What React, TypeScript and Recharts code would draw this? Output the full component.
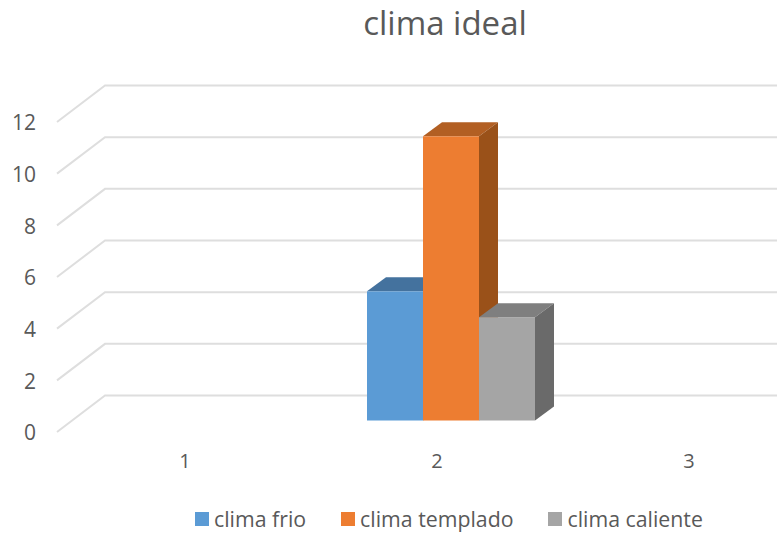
import React from "react";
import { BarChart, Bar, XAxis, YAxis, CartesianGrid, Legend } from "recharts";

const categories = ["1", "2", "3"];
const climaFrio = [null, 5, null];
const climaTemplado = [null, 11, null];
const climaCaliente = [null, 4, null];
const yTicks = [0, 2, 4, 6, 8, 10, 12];

const data = categories.map((name, i) => ({
    name,
    frio: climaFrio[i],
    templado: climaTemplado[i],
    caliente: climaCaliente[i],
}));

const FONT = "'Open Sans', sans-serif";
const TEXT_COLOR = "#595959";

// fake 3d depth, excel draws the columns pushed back from the axis plane
const DEPTH_X = 19;
const DEPTH_Y = 14;
const SHIFT_X = 14;
const SHIFT_Y = -11.5;
const WALL_X = 48;
const WALL_Y = 36.5;

const Column3D = (colors: { top: string; side: string }) => (props: any) => {
    const { x, y, width, height, fill } = props;
    if (!height) {
        return null;
    }
    const l = x + SHIFT_X;
    const r = l + width;
    const t = y + SHIFT_Y;
    const b = t + height;
    return (
        <g>
            <polygon
                points={`${l},${t} ${l + DEPTH_X},${t - DEPTH_Y} ${r + DEPTH_X},${t - DEPTH_Y} ${r},${t}`}
                fill={colors.top}
            />
            <polygon
                points={`${r},${t} ${r + DEPTH_X},${t - DEPTH_Y} ${r + DEPTH_X},${b - DEPTH_Y} ${r},${b}`}
                fill={colors.side}
            />
            <rect x={l} y={t} width={width} height={height} fill={fill} />
        </g>
    );
};

const WallLine = (props: any) => {
    const { x1, y1, x2 } = props;
    const start = x1 - 2;
    return (
        <path
            d={`M${start},${y1} L${start + WALL_X},${y1 - WALL_Y} L${x2},${y1 - WALL_Y}`}
            fill="none"
            stroke="#DEDEDE"
            strokeWidth={2}
        />
    );
};

const LegendRow = (props: any) => (
    <div style={{ display: "flex", fontFamily: FONT, fontSize: 21.3, color: TEXT_COLOR, lineHeight: "26px" }}>
        {props.payload.map((item: any) => (
            <div key={item.value} style={{ display: "flex", alignItems: "center", marginRight: 35 }}>
                <span style={{ width: 14, height: 14, background: item.color, marginRight: 5 }} />
                <span>{item.value}</span>
            </div>
        ))}
    </div>
);

export default function App() {
    return (
        <div style={{ position: "absolute", left: 0, top: 0, width: 777, height: 534, overflow: "hidden" }}>
            <BarChart
                width={830}
                height={534}
                data={data}
                barSize={56}
                barGap={0}
                margin={{ top: 122, right: 15, bottom: 42, left: 0 }}
            >
                <text x={445} y={35} textAnchor="middle" fontFamily={FONT} fontSize={33} fill={TEXT_COLOR}>
                    clima ideal
                </text>
                <CartesianGrid vertical={false} horizontal={WallLine} syncWithTicks />
                <XAxis
                    dataKey="name"
                    height={60}
                    axisLine={false}
                    tickLine={false}
                    tickMargin={16}
                    tick={{ fontFamily: FONT, fontSize: 20, fill: TEXT_COLOR }}
                />
                <YAxis
                    width={59}
                    domain={[0, 12]}
                    ticks={yTicks}
                    axisLine={false}
                    tickLine={false}
                    tickMargin={17}
                    tick={{ fontFamily: FONT, fontSize: 21, fill: TEXT_COLOR, dy: 1 }}
                />
                <Legend
                    layout="horizontal"
                    verticalAlign="middle"
                    align="center"
                    itemSorter={null}
                    content={LegendRow}
                    wrapperStyle={{ left: 195, top: 506, width: 580 }}
                />
                <Bar
                    isAnimationActive={false}
                    dataKey="frio"
                    name="clima frio"
                    fill="#5B9BD5"
                    shape={Column3D({ top: "#44729E", side: "#3F6B93" })}
                />
                <Bar
                    isAnimationActive={false}
                    dataKey="templado"
                    name="clima templado"
                    fill="#ED7D31"
                    shape={Column3D({ top: "#B25F23", side: "#9A5119" })}
                />
                <Bar
                    isAnimationActive={false}
                    dataKey="caliente"
                    name="clima caliente"
                    fill="#A5A5A5"
                    shape={Column3D({ top: "#7F7F7F", side: "#6A6A6A" })}
                />
            </BarChart>
        </div>
    );
}
